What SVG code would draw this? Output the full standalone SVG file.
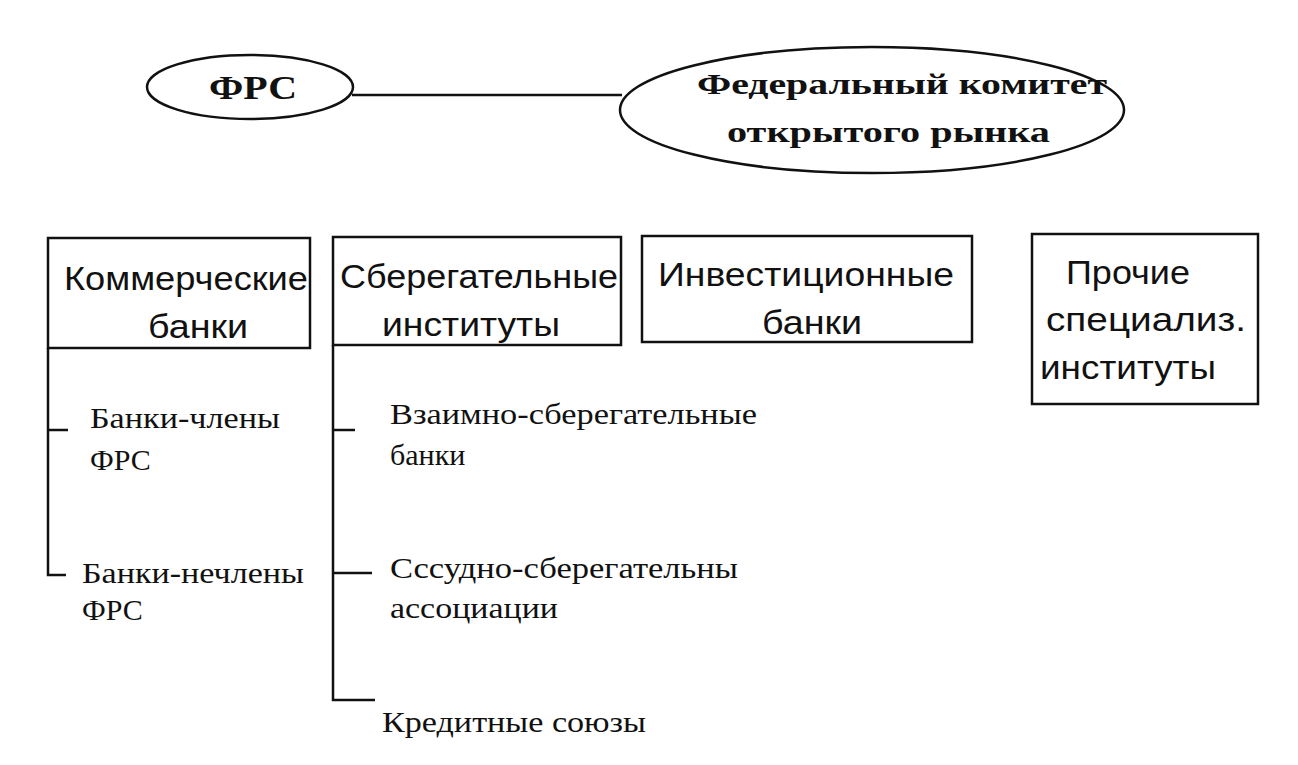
<svg xmlns="http://www.w3.org/2000/svg" width="1298" height="765" viewBox="0 0 1298 765">
<style>
.s{fill:none;stroke:#111;stroke-width:2.5}
.b{font-family:"Liberation Sans",Arial,sans-serif;font-size:34px;fill:#111}
.t{font-family:"Liberation Serif","Times New Roman",serif;font-size:30px;fill:#111}
.h{font-family:"Liberation Serif","Times New Roman",serif;font-weight:bold;fill:#111}
</style>
<rect width="1298" height="765" fill="#fff"/>
<g id="frs"><ellipse class="s" cx="250" cy="87" rx="103" ry="32"/><text class="h" x="209" y="99" font-size="34" textLength="88" lengthAdjust="spacingAndGlyphs">ФРС</text></g>
<g id="fomc"><ellipse class="s" cx="872" cy="110" rx="252" ry="63"/><text class="h" x="697" y="94" font-size="29" textLength="410" lengthAdjust="spacingAndGlyphs">Федеральный комитет</text><text class="h" x="727" y="142" font-size="29" textLength="323" lengthAdjust="spacingAndGlyphs">открытого рынка</text></g>
<g id="comm"><rect class="s" x="48" y="238" width="262" height="110"/><text class="b" x="64" y="290" textLength="244" lengthAdjust="spacingAndGlyphs">Коммерческие</text><text class="b" x="148" y="338" textLength="100" lengthAdjust="spacingAndGlyphs">банки</text></g>
<g id="sav"><rect class="s" x="333" y="237" width="288" height="108"/><text class="b" x="340" y="288" textLength="278" lengthAdjust="spacingAndGlyphs">Сберегательные</text><text class="b" x="382" y="336" textLength="178" lengthAdjust="spacingAndGlyphs">институты</text></g>
<g id="inv"><rect class="s" x="642" y="236" width="330" height="106"/><text class="b" x="658" y="286" textLength="296" lengthAdjust="spacingAndGlyphs">Инвестиционные</text><text class="b" x="762" y="334" textLength="100" lengthAdjust="spacingAndGlyphs">банки</text></g>
<g id="other"><rect class="s" x="1032" y="234" width="226" height="170"/><text class="b" x="1066" y="284" textLength="124" lengthAdjust="spacingAndGlyphs">Прочие</text><text class="b" x="1046" y="331" textLength="200" lengthAdjust="spacingAndGlyphs">специализ.</text><text class="b" x="1040" y="379" textLength="176" lengthAdjust="spacingAndGlyphs">институты</text></g>
<g id="m1"><text class="t" x="90" y="428" textLength="190" lengthAdjust="spacingAndGlyphs">Банки-члены</text><text class="t" x="90" y="470">ФРС</text></g>
<g id="m2"><text class="t" x="82" y="583" textLength="222" lengthAdjust="spacingAndGlyphs">Банки-нечлены</text><text class="t" x="82" y="620">ФРС</text></g>
<g id="s1"><text class="t" x="390" y="424" textLength="367" lengthAdjust="spacingAndGlyphs">Взаимно-сберегательные</text><text class="t" x="390" y="465">банки</text></g>
<g id="s2"><text class="t" x="390" y="578" textLength="348" lengthAdjust="spacingAndGlyphs">Сссудно-сберегательны</text><text class="t" x="390" y="618" textLength="168" lengthAdjust="spacingAndGlyphs">ассоциации</text></g>
<g id="s3"><text class="t" x="382" y="732" textLength="264" lengthAdjust="spacingAndGlyphs">Кредитные союзы</text></g>
<g id="connectors" class="s">
<path class="s" d="M352 95H622"/>
<path class="s" d="M48 348V575H66M48 430H68"/>
<path class="s" d="M333 345V700H375M333 430H355M333 573H372"/>
</g>
</svg>
